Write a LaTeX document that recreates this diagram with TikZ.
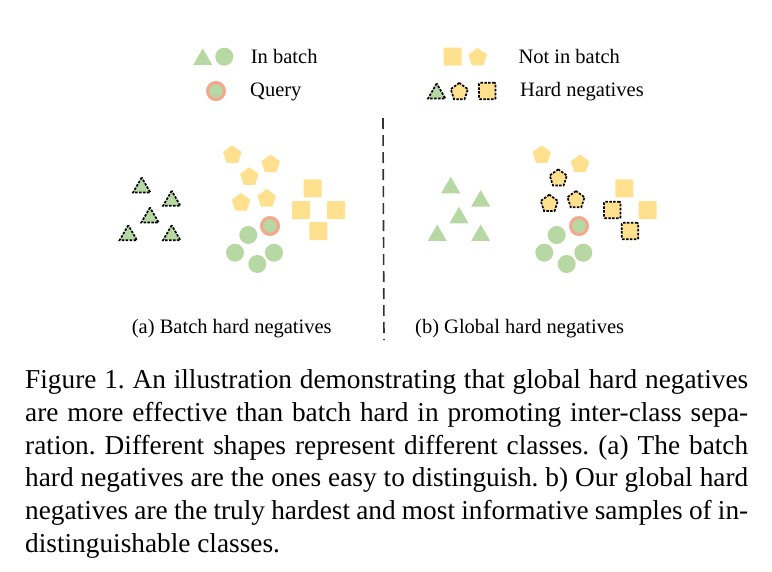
\documentclass[tikz,border=0pt]{standalone}
\usepackage{fontspec}
\setmainfont{Liberation Serif}
\usetikzlibrary{shapes.geometric}
\definecolor{cgreen}{RGB}{183,215,163}
\definecolor{cyellow}{RGB}{255,224,143}
\definecolor{corange}{RGB}{246,166,140}
\definecolor{cline}{RGB}{50,50,50}
\begin{document}
\begin{tikzpicture}[x=1pt,y=-1pt,
 tri/.style={regular polygon, regular polygon sides=3, minimum size=22pt, inner sep=0pt, fill=cgreen},
 pent/.style={regular polygon, regular polygon sides=5, minimum size=19.5pt, inner sep=0pt, fill=cyellow},
 sq/.style={rectangle, minimum size=18pt, inner sep=0pt, fill=cyellow, rounded corners=1pt},
 circ/.style={circle, minimum size=18pt, inner sep=0pt, fill=cgreen},
 query/.style={circle, minimum size=17pt, inner sep=0pt, fill=cgreen, draw=corange, line width=3pt},
 hard/.style={draw=black, line width=1.7pt, dash pattern=on 2.5pt off 1.4pt},
 lbl/.style={font=\fontsize{20.5}{24}\selectfont, anchor=base west, inner sep=0pt},
]
\useasboundingbox (0,0) rectangle (772,571);
% legend
\node[tri] (lt1) at (202.7,59.4) {};
\node[circ] (lc1) at (224.3,56.7) {};
\node[lbl] (lib) at (250.7,63.3) {In batch};
\node[query] (lq) at (216,91) {};
\node[lbl] (lqt) at (250,96.5) {Query};
\node[sq] (ls1) at (452.7,56.7) {};
\node[pent] (lp1) at (477.7,57.6) {};
\node[lbl] (lnb) at (518.3,63.3) {Not in batch};
\node[tri,hard,minimum size=20pt] (lt2) at (436.7,93.5) {};
\node[pent,hard,minimum size=18pt] (lp2) at (459.3,91.9) {};
\node[sq,hard,minimum size=16.5pt] (ls2) at (487.3,91) {};
\node[lbl] (lhn) at (520,96.5) {Hard negatives};
% divider
\coordinate (d1) at (383,118);
\coordinate (d2) at (384,340);
\draw[cline, line width=1.6pt, dash pattern=on 11pt off 6pt] (d1) -- (d2);
% panel a
\foreach \n/\x/\y in {a1/141.7/185, a2/171.7/198.3, a3/150/215, a4/128.3/232.7, a5/171.7/232.7}
  \node[tri,hard,minimum size=20pt] (t\n) at (\x,\y+2.5) {};
\foreach \n/\x/\y in {a1/232.3/154, a2/270.7/163.3, a3/249.3/176, a4/241/201.7, a5/266.7/197.7}
  \node[pent] (p\n) at (\x,\y+1) {};
\foreach \n/\x/\y in {a1/312.7/188.3, a2/301/210, a3/336/210, a4/318.3/231}
  \node[sq] (s\n) at (\x,\y) {};
\foreach \n/\x/\y in {a1/248.3/235, a2/235/252.7, a3/274/252.7, a4/257.3/264}
  \node[circ] (c\n) at (\x,\y) {};
\node[query] (qa) at (270,226) {};
% panel b
\foreach \n/\x/\y in {b1/450.7/185, b2/480.7/198.3, b3/459/215, b4/437.3/232.7, b5/480.7/232.7}
  \node[tri] (t\n) at (\x,\y+2.75) {};
\foreach \n/\x/\y in {b1/541.7/154, b2/580/163.3}
  \node[pent] (p\n) at (\x,\y+1) {};
\foreach \n/\x/\y in {b3/558.3/177.3, b4/549.3/202.7, b5/576/199}
  \node[pent,hard,minimum size=18pt] (p\n) at (\x,\y+1) {};
\foreach \n/\x/\y in {b1/624.3/188.3, b3/647.7/210}
  \node[sq] (s\n) at (\x,\y) {};
\foreach \n/\x/\y in {b2/612.3/210, b4/630/231}
  \node[sq,hard,minimum size=16.5pt] (s\n) at (\x,\y) {};
\foreach \n/\x/\y in {b1/556.7/235, b2/544.3/252.7, b3/583.3/252.7, b4/566.7/264}
  \node[circ] (c\n) at (\x,\y) {};
\node[query] (qb) at (579,226) {};
% subcaptions
\node[lbl] (capa) at (131.7,333.3) {(a) Batch hard negatives};
\node[lbl] (capb) at (415,333.3) {(b) Global hard negatives};
% main caption
\node[anchor=north west, inner sep=0pt, text width=723pt, align=justify,
      font=\fontsize{27.3}{32.8}\selectfont] (cap) at (25,369.4)
 {\frenchspacing\hyphenpenalty=10000\exhyphenpenalty=10000
 Figure 1. An illustration demonstrating that global hard negatives\linebreak
 are more effective than batch hard in promoting inter-class sepa-\linebreak
 ration. Different shapes represent different classes. (a) The batch\linebreak
 hard negatives are the ones easy to distinguish. b) Our global hard\linebreak
 negatives are the truly hardest and most informative samples of in-\linebreak
 distinguishable classes.};
\end{tikzpicture}
\end{document}
